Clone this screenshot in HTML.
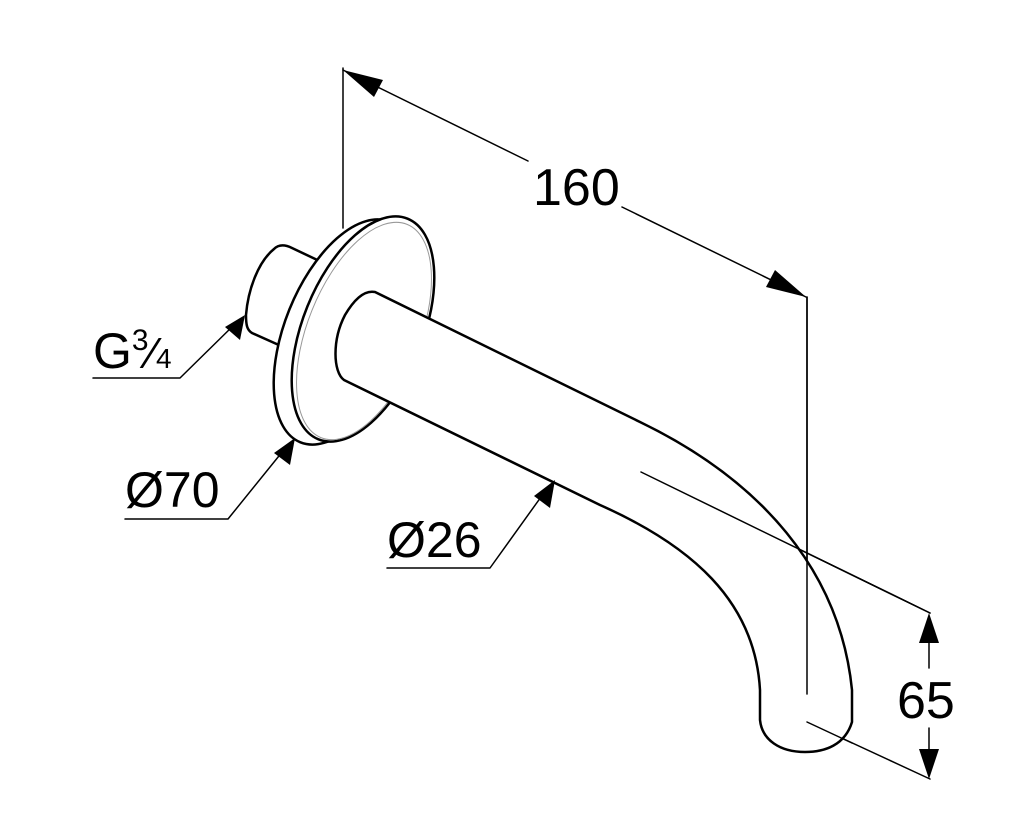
<!DOCTYPE html>
<html><head><style>
html,body{margin:0;padding:0;background:#fff;}
svg{display:block;}
text{font-family:"Liberation Sans",sans-serif;fill:#000;}
</style></head><body>
<svg width="1024" height="825" viewBox="0 0 1024 825" xmlns="http://www.w3.org/2000/svg">
<g fill="none" stroke="#000" stroke-linecap="round" stroke-linejoin="round">
<!-- 160 dimension -->
<line x1="343" y1="68" x2="343" y2="228" stroke-width="1.5"/>
<line x1="343" y1="70" x2="528" y2="161" stroke-width="1.5"/>
<line x1="622" y1="207" x2="806" y2="297" stroke-width="1.5"/>
<line x1="807" y1="297" x2="807" y2="694" stroke-width="1.5"/>
<!-- centerline / 65 extension -->
<line x1="641" y1="472" x2="930" y2="613" stroke-width="1.5"/>
<line x1="807" y1="722" x2="930" y2="779" stroke-width="1.5"/>
<line x1="929" y1="640" x2="929" y2="668" stroke-width="1.5"/>
<line x1="929" y1="728" x2="929" y2="755" stroke-width="1.5"/>
<!-- leaders -->
<polyline points="93,378 180,378 236,323" stroke-width="1.5"/>
<polyline points="125,519 228,519 287,446" stroke-width="1.5"/>
<polyline points="387,568 490,568 546,490" stroke-width="1.5"/>

<!-- nipple -->
<path d="M286,247 L330,266 L330,350 L282,345 L250,330 Z" fill="#fff" stroke="none"/>
<path d="M330,266 L292,248 C284,244 278,245 274,249 C258,262 248,290 246,315 C246,325 247,330 252,333 L290,350" stroke-width="2.5"/>
<!-- flange back -->
<ellipse cx="345" cy="332" rx="60" ry="119" transform="rotate(22 345 332)" fill="#fff" stroke-width="2.5"/>
<!-- flange front -->
<ellipse cx="363" cy="329" rx="60" ry="119" transform="rotate(22 363 329)" fill="#fff" stroke-width="2.5"/>
<ellipse cx="364" cy="331" rx="56" ry="115" transform="rotate(22 364 331)" stroke="#999" stroke-width="1"/>
<!-- pipe -->
<path d="M375,292 L640,422 C760,480 840,570 852,690 L852,722 C845,745 825,752 805,752 C780,752 762,740 760,720 L760,690 C755,600 690,545 600,505 L338,378 C330,350 345,300 375,292 Z" fill="#fff" stroke="none"/>
<path d="M375,292 L640,422 C760,480 840,570 852,690 L852,722 C845,745 825,752 805,752 C780,752 762,740 760,720 L760,690 C755,600 690,545 600,505 L344,380 C333,372 332,340 345,315 C355,298 365,290 375,292" stroke-width="2.5"/>
<line x1="641" y1="472" x2="930" y2="613" stroke-width="1.5"/>
<line x1="807" y1="297" x2="807" y2="694" stroke-width="1.5"/>
<line x1="807" y1="722" x2="852" y2="743" stroke-width="1.5"/>
</g>
<!-- arrowheads -->
<g fill="#000">
<polygon points="343,70 383,80 374,97"/>
<polygon points="806,297 766,287 775,270"/>
<polygon points="929,613 919,643 939,643"/>
<polygon points="929,779 919,749 939,749"/>
<polygon points="245,315 240,340 225,327"/>
<polygon points="295,438 290,465 274,453"/>
<polygon points="555,480 550,508 534,496"/>
</g>
<text x="533" y="205" font-size="52">160</text>
<text x="897" y="718" font-size="52">65</text>
<text x="93" y="368" font-size="50">G<tspan font-size="30" dy="-18">3</tspan><tspan dy="18" font-size="44">⁄</tspan><tspan font-size="28">4</tspan></text>
<text x="125" y="507" font-size="50">Ø70</text>
<text x="387" y="557" font-size="50">Ø26</text>
</svg>
</body></html>
